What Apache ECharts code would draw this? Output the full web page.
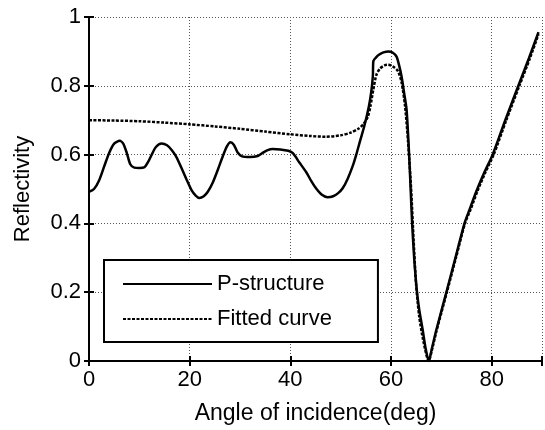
<!DOCTYPE html>
<html>
<head>
<meta charset="utf-8">
<script src="https://cdn.jsdelivr.net/npm/echarts@6/dist/echarts.min.js"></script>
<style>
  html, body { margin: 0; padding: 0; background: #fff; }
  #main { width: 545px; height: 430px; }
</style>
</head>
<body>
<div id="main"></div>
<script>
// P-structure (solid)
var pX = [0, 1, 2, 3, 4, 5, 6.1, 6.8, 7.5, 8.2, 9, 10, 11, 11.8, 12.4, 13.3, 14.4, 15.5, 16.5, 17.4, 18.4, 19.4,
    20.4, 21.2, 21.9, 22.8, 23.6, 24.6, 25.6, 26.6, 27.4, 28.1, 28.8, 29.5, 30.4, 32, 33.5, 34.5, 35.5, 36.5,
    38, 39.6, 40.5, 41.8, 43.2, 44.2, 45.1, 46.2, 47.4, 48.5, 49.5, 50.4, 51.4, 52.4, 53.1, 53.9, 54.7, 55.6,
    56.1, 56.4, 56.5, 57, 57.6, 58.5, 59.5, 60.3, 61.1, 61.6, 62.1, 62.6, 63.1, 63.6, 63.9, 64.2, 64.6,
    65.1, 65.6, 66.3, 66.9, 67.5, 68.1, 69, 70, 71, 72.8, 74.6, 75.6, 77, 78.6, 80.2, 82.7, 85.3, 87.4, 89.3];
var pY = [0.492, 0.5, 0.525, 0.565, 0.605, 0.632, 0.64, 0.632, 0.605, 0.572, 0.562, 0.561, 0.563, 0.58, 0.598, 0.622, 0.632, 0.627, 0.612, 0.592, 0.56, 0.527,
    0.496, 0.481, 0.474, 0.479, 0.492, 0.519, 0.556, 0.596, 0.624, 0.636, 0.628, 0.607, 0.595, 0.593, 0.596, 0.605, 0.613, 0.616,
    0.615, 0.611, 0.604, 0.577, 0.548, 0.522, 0.502, 0.484, 0.476, 0.479, 0.488, 0.502, 0.53, 0.567, 0.6, 0.642, 0.683, 0.74,
    0.785, 0.83, 0.872, 0.882, 0.89, 0.897, 0.9, 0.897, 0.885, 0.86, 0.827, 0.78, 0.73, 0.6, 0.5, 0.4, 0.3,
    0.21, 0.15, 0.09, 0.035, 0, 0.035, 0.09, 0.145, 0.2, 0.3, 0.4, 0.44, 0.495, 0.55, 0.6, 0.7, 0.8, 0.88, 0.956];

// Fitted curve (dotted)
var fX = [0, 5, 10, 15, 20, 25, 30, 35, 40, 44, 47, 50, 52, 53.5, 54.5, 55.4, 55.9, 56.5, 57.1, 57.8, 58.8, 59.4,
    60.3, 61.4, 62.1, 62.8, 63.4, 64, 64.5, 65, 65.6, 66.4, 67.5, 68.1, 69, 70, 71.1, 72.9, 74.7, 75.8, 77.2, 78.8, 80.4,
    82.9, 85.5, 87.6, 89.3];
var fY = [0.7, 0.699, 0.697, 0.693, 0.688, 0.682, 0.675, 0.667, 0.659, 0.654, 0.652, 0.656, 0.664, 0.675, 0.688, 0.71, 0.74, 0.79, 0.832, 0.85, 0.86, 0.861,
    0.857, 0.842, 0.81, 0.74, 0.635, 0.5, 0.35, 0.22, 0.13, 0.06, 0, 0.03, 0.085, 0.14, 0.2, 0.3, 0.4, 0.44, 0.495, 0.55, 0.6,
    0.7, 0.8, 0.88, 0.95];

var xTicks = [0, 20, 40, 60, 80];
var yTicks = [0, 0.2, 0.4, 0.6, 0.8, 1];
var seriesNames = ['P-structure', 'Fitted curve'];

function pairs(xs, ys) {
    var out = [];
    for (var i = 0; i < xs.length; i++) out.push([xs[i], ys[i]]);
    return out;
}

var font = 'Liberation Sans, Arial, Helvetica, sans-serif';
var gridLine = { show: true, lineStyle: { color: '#555', type: [1, 2], width: 1 } };
var frame = { show: true, lineStyle: { color: '#000', width: 2 } };
var tick = { show: true, inside: true, length: 5, lineStyle: { color: '#000', width: 2 } };

var myChart = echarts.init(document.getElementById('main'), null, { renderer: 'canvas' });
var option = {
    animation: false,
    backgroundColor: '#fff',
    textStyle: { fontFamily: font },
    grid: { left: 89, right: 1, top: 17, bottom: 67, containLabel: false },
    xAxis: [{
        type: 'value', min: 0, max: 90, interval: 20, position: 'bottom',
        name: 'Angle of incidence(deg)', nameLocation: 'middle', nameGap: 41,
        nameTextStyle: { fontSize: 23, color: '#000', fontFamily: font },
        axisLine: frame, axisTick: tick, splitLine: gridLine,
        axisLabel: {
            fontSize: 22, color: '#000', margin: 8, fontFamily: font,
            formatter: function (v) { return xTicks.indexOf(v) >= 0 ? String(v) : ''; }
        }
    }, {
        type: 'value', min: 0, max: 90, interval: 20, position: 'top',
        axisLine: frame, axisTick: tick, splitLine: { show: false }, axisLabel: { show: false }
    }],
    yAxis: [{
        type: 'value', min: 0, max: 1, interval: 0.2, position: 'left',
        name: 'Reflectivity', nameLocation: 'middle', nameGap: 55, nameRotate: 90,
        nameTextStyle: { fontSize: 22, color: '#000', fontFamily: font },
        axisLine: frame, axisTick: tick, splitLine: gridLine,
        axisLabel: {
            fontSize: 22, color: '#000', margin: 8, fontFamily: font,
            formatter: function (v) {
                var r = Math.round(v * 10) / 10;
                return yTicks.indexOf(r) >= 0 ? String(r) : '';
            }
        }
    }, {
        type: 'value', min: 0, max: 1, interval: 0.2, position: 'right',
        axisLine: frame, axisTick: tick, splitLine: { show: false }, axisLabel: { show: false }
    }],
    legend: {
        data: seriesNames,
        orient: 'vertical',
        left: 104, top: 260,
        itemWidth: 89, itemHeight: 14, itemGap: 13,
        padding: [13, 46, 12, 18],
        borderColor: '#000', borderWidth: 2, borderRadius: 0,
        backgroundColor: '#fff',
        itemStyle: { opacity: 0 },
        textStyle: { fontSize: 22, color: '#000', fontFamily: font }
    },
    series: [{
        name: seriesNames[0],
        type: 'line',
        data: pairs(pX, pY),
        showSymbol: false, symbol: 'none',
        smooth: 0.25,
        lineStyle: { color: '#000', width: 2.5, type: 'solid' },
        itemStyle: { color: '#000' }
    }, {
        name: seriesNames[1],
        type: 'line',
        data: pairs(fX, fY),
        showSymbol: false, symbol: 'none',
        smooth: 0.25,
        lineStyle: { color: '#000', width: 2.5, type: [3, 1.5] },
        itemStyle: { color: '#000' }
    }]
};
myChart.setOption(option);
</script>
</body>
</html>
